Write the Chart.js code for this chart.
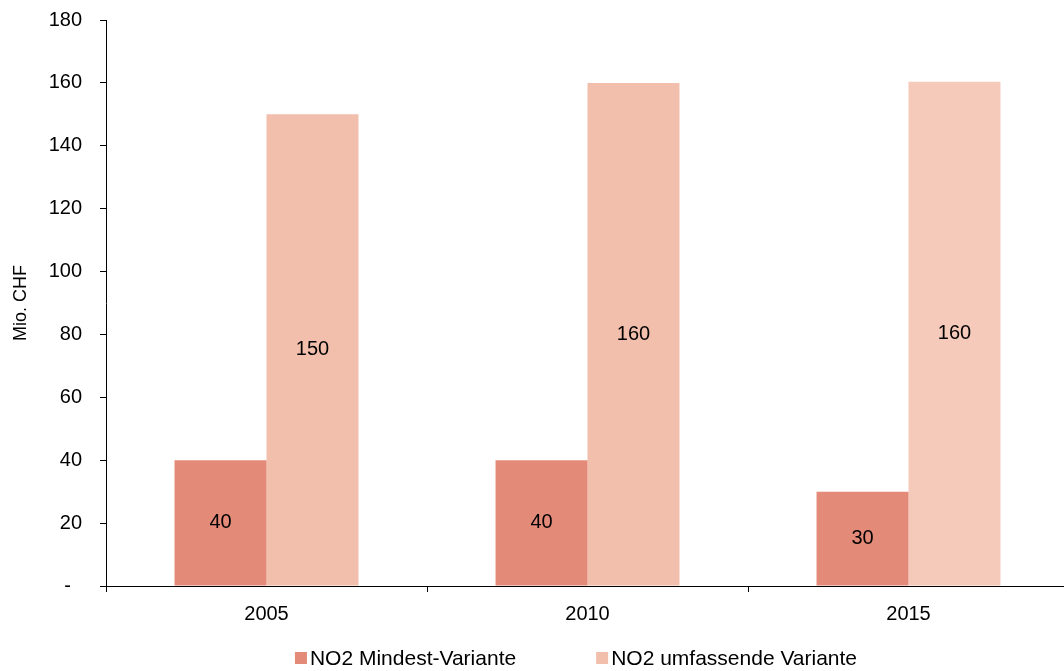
<!DOCTYPE html>
<html>
<head>
<meta charset="utf-8">
<script src="https://cdn.jsdelivr.net/npm/chart.js@4"></script>
<style>
  html, body { margin: 0; padding: 0; background: #fff; overflow: hidden; }
  #wrap { width: 1064px; height: 671px; overflow: hidden; }
  canvas { display: block; }
</style>
</head>
<body>
<div id="wrap"><canvas id="c" width="1069" height="671"></canvas></div>
<script>
const categories = ['2005', '2010', '2015'];
const seriesNames = ['NO2 Mindest-Variante', 'NO2 umfassende Variante'];
const mindestValues = [40, 40, 30];
const umfassendValues = [150, 160, 160.4];
const yTicks = [0, 20, 40, 60, 80, 100, 120, 140, 160, 180];

const RED = '#E48A78';
const PINK = '#F1BFAC';
const PINK_LIGHT = '#F5CABB';

Chart.defaults.font.family = '"Liberation Sans", Arial, sans-serif';
Chart.defaults.color = '#000';

const valueLabels = {
  id: 'valueLabels',
  afterDatasetsDraw(chart) {
    const ctx = chart.ctx;
    ctx.save();
    ctx.font = '20px "Liberation Sans", Arial, sans-serif';
    ctx.fillStyle = '#000';
    ctx.textAlign = 'center';
    ctx.textBaseline = 'middle';
    chart.data.datasets.forEach((ds, di) => {
      const meta = chart.getDatasetMeta(di);
      meta.data.forEach((bar, i) => {
        const v = ds.data[i];
        const y = (bar.y + bar.base) / 2;
        ctx.fillText(String(Math.round(v)), bar.x, y);
      });
    });
    ctx.restore();
  }
};

const bottomLegend = {
  id: 'bottomLegend',
  afterDraw(chart) {
    const ctx = chart.ctx;
    ctx.save();
    ctx.font = '21px "Liberation Sans", Arial, sans-serif';
    ctx.textBaseline = 'middle';
    ctx.textAlign = 'left';
    const box = 12, gapText = 3, gapItem = 80;
    const colors = [RED, PINK];
    const widths = seriesNames.map(n => ctx.measureText(n).width);
    let total = 0;
    widths.forEach((w, i) => { total += box + gapText + w + (i < widths.length - 1 ? gapItem : 0); });
    let x = 576 - total / 2;
    const y = 658;
    seriesNames.forEach((n, i) => {
      ctx.fillStyle = colors[i];
      ctx.fillRect(x, y - box / 2, box, box);
      ctx.fillStyle = '#000';
      ctx.fillText(n, x + box + gapText, y + 1);
      x += box + gapText + widths[i] + gapItem;
    });
    ctx.restore();
  }
};

new Chart(document.getElementById('c'), {
  type: 'bar',
  data: {
    labels: categories,
    datasets: [
      {
        label: seriesNames[0],
        data: mindestValues,
        backgroundColor: RED,
        categoryPercentage: 0.573,
        barPercentage: 1.0
      },
      {
        label: seriesNames[1],
        data: umfassendValues,
        backgroundColor: [PINK, PINK, PINK_LIGHT],
        categoryPercentage: 0.573,
        barPercentage: 1.0
      }
    ]
  },
  options: {
    responsive: false,
    devicePixelRatio: 1,
    animation: false,
    layout: { padding: { top: 20, right: 0, bottom: 40, left: 0 } },
    plugins: {
      legend: { display: false },
      tooltip: { enabled: false }
    },
    scales: {
      x: {
        grid: {
          display: true,
          drawOnChartArea: false,
          drawTicks: true,
          tickLength: 6,
          color: '#000',
          offset: true
        },
        border: { display: true, color: '#000', width: 1 },
        ticks: { font: { size: 20 }, color: '#000', padding: 10 },
        afterFit(scale) { scale.height = 45; }
      },
      y: {
        min: 0,
        max: 180,
        afterBuildTicks(scale) { scale.ticks = yTicks.map(v => ({ value: v })); },
        grid: {
          display: true,
          drawOnChartArea: false,
          drawTicks: true,
          tickLength: 6,
          color: '#000'
        },
        border: { display: true, color: '#000', width: 1 },
        ticks: {
          font: { size: 20 },
          color: '#000',
          padding: 18,
          callback: v => (v === 0 ? '-  ' : String(v))
        },
        title: {
          display: true,
          text: 'Mio. CHF',
          font: { size: 18 },
          color: '#000',
          padding: { top: 10, bottom: 0 }
        },
        afterFit(scale) {
          scale.width = 106;
          scale.paddingTop = 0;
          scale.paddingBottom = 0;
        }
      }
    }
  },
  plugins: [valueLabels, bottomLegend]
});
</script>
</body>
</html>
